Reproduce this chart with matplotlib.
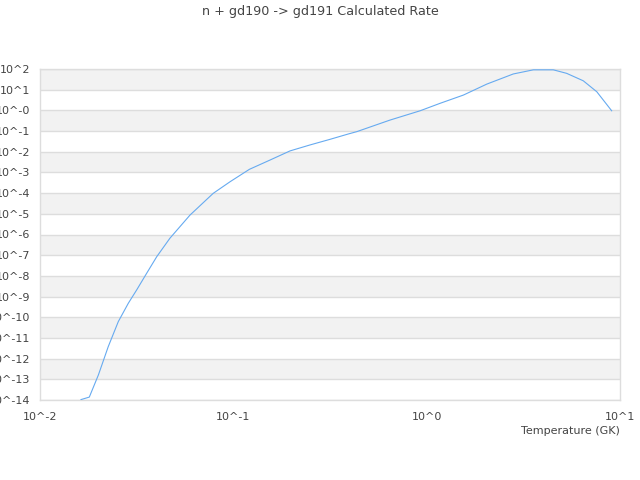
import matplotlib
matplotlib.use("Agg")
import matplotlib.pyplot as plt
import numpy as np

# log10 of temperature (GK) and log10 of rate
log_temperature = [-1.788, -1.745, -1.698, -1.647, -1.595, -1.543, -1.500, -1.448,
                   -1.396, -1.328, -1.224, -1.104, -1.017, -0.917, -0.810, -0.707,
                   -0.603, -0.500, -0.405, -0.362, -0.190, -0.034, 0.069, 0.190,
                   0.311, 0.448, 0.552, 0.655, 0.724, 0.810, 0.880, 0.957]
log_rate = [-13.98, -13.86, -12.79, -11.42, -10.21, -9.32, -8.68, -7.87,
            -7.07, -6.18, -5.06, -4.01, -3.45, -2.85, -2.40, -1.96,
            -1.67, -1.40, -1.14, -1.03, -0.47, -0.02, 0.34, 0.74,
            1.27, 1.76, 1.96, 1.96, 1.79, 1.43, 0.90, -0.02]

y_exponents = list(range(-14, 3))
x_exponents = [-2, -1, 0, 1]
y_tick_labels = ["10^-14", "10^-13", "10^-12", "10^-11", "10^-10", "10^-9", "10^-8",
                 "10^-7", "10^-6", "10^-5", "10^-4", "10^-3", "10^-2", "10^-1",
                 "10^-0", "10^1", "10^2"]
x_tick_labels = ["10^-2", "10^-1", "10^0", "10^1"]

title = "n + gd190 -> gd191 Calculated Rate"
x_label = "Temperature (GK)"

temperature = 10.0 ** np.array(log_temperature)
rate = 10.0 ** np.array(log_rate)

text_color = "#444444"
grid_color = "#dddddd"
band_color = "#f2f2f2"

fig = plt.figure(figsize=(6.4, 4.8), dpi=100)
ax = fig.add_axes([40 / 640, 1 - 400 / 480, 580 / 640, 331 / 480])
ax.set_xscale("log")
ax.set_yscale("log")
ax.set_xlim(10.0 ** x_exponents[0], 10.0 ** x_exponents[-1])
ax.set_ylim(10.0 ** y_exponents[0], 10.0 ** y_exponents[-1])

# alternating bands
for e in y_exponents[1:]:
    if e % 2 == 0:
        ax.axhspan(10.0 ** (e - 1), 10.0 ** e, color=band_color, zorder=0, lw=0)

ax.set_yticks([10.0 ** e for e in y_exponents])
ax.set_yticklabels(y_tick_labels)
ax.set_xticks([10.0 ** e for e in x_exponents])
ax.set_xticklabels(x_tick_labels)
ax.minorticks_off()
ax.tick_params(axis="both", length=0, labelsize=8, colors=text_color)
ax.tick_params(axis="y", pad=7)
ax.tick_params(axis="x", pad=9)
ax.grid(True, axis="y", color=grid_color, linewidth=1)
ax.set_axisbelow(True)
for s in ax.spines.values():
    s.set_color(grid_color)
    s.set_linewidth(1)

ax.plot(temperature, rate, color="#66aaf0", linewidth=0.8, zorder=3)

fig.text(0.5, 1 - 12 / 480, title, ha="center", va="center", fontsize=9.2, color=text_color)
fig.text(620 / 640, 1 - 431 / 480, x_label, ha="right", va="center", fontsize=8, color=text_color)

fig.savefig("out.png", dpi=100)
